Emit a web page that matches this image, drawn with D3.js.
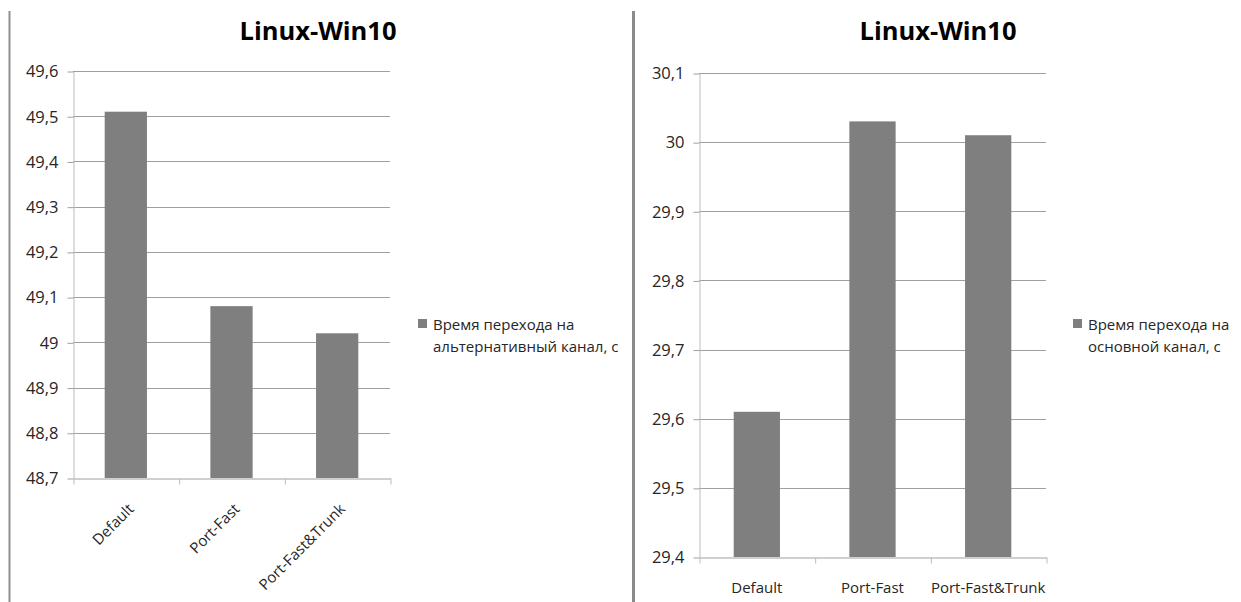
<!DOCTYPE html>
<html>
<head>
<meta charset="utf-8">
<script src="https://cdn.jsdelivr.net/npm/d3@7"></script>
<style>
  html, body { margin: 0; padding: 0; background: #fff; }
  svg { display: block; font-family: "Open Sans", sans-serif; }
</style>
</head>
<body>
<svg id="chart" width="1241" height="602"></svg>
<script>
// ---- data ----
const categories = ["Default", "Port-Fast", "Port-Fast&Trunk"];
const altValues = [49.51, 49.08, 49.02];   // Время перехода на альтернативный канал, с
const mainValues = [29.61, 30.03, 30.01];  // Время перехода на основной канал, с
const altTicks = [48.7, 48.8, 48.9, 49.0, 49.1, 49.2, 49.3, 49.4, 49.5, 49.6];
const mainTicks = [29.4, 29.5, 29.6, 29.7, 29.8, 29.9, 30.0, 30.1];
const chartTitles = ["Linux-Win10", "Linux-Win10"];
const legendLabels = [
  ["Время перехода на", "альтернативный канал, с"],
  ["Время перехода на", "основной канал, с"]
];

const fmt = v => d3.format("~g")(+v.toFixed(1)).replace(".", ",");

const svg = d3.select("#chart");
const BAR = "#7f7f7f", GRID = "#a0a0a0", AXIS = "#bdbdbd", TXT = "#262626";

// separators
svg.append("line").attr("x1", 9.5).attr("x2", 9.5).attr("y1", 11).attr("y2", 602)
  .attr("stroke", "#8f8f8f").attr("stroke-width", 2);
svg.append("line").attr("x1", 633.5).attr("x2", 633.5).attr("y1", 11).attr("y2", 602)
  .attr("stroke", "#8a8a8a").attr("stroke-width", 3);

function drawPanel(cfg) {
  const g = svg.append("g");
  const y = d3.scaleLinear().domain(cfg.domain).range([cfg.bottom, cfg.top]);
  const x = d3.scaleBand().domain(categories).range([cfg.left, cfg.right])
    .paddingInner(0.6).paddingOuter(0.3);
  const bound = d3.scaleLinear().domain([0, categories.length]).range([cfg.left, cfg.right]);

  // gridlines
  g.append("g").selectAll("line").data(cfg.ticks.slice(1)).join("line")
    .attr("x1", cfg.left).attr("x2", cfg.right)
    .attr("y1", d => Math.round(y(d)) + 0.5).attr("y2", d => Math.round(y(d)) + 0.5)
    .attr("stroke", GRID).attr("stroke-width", 1);

  // bars
  g.append("g").selectAll("rect").data(cfg.values).join("rect")
    .attr("x", (d, i) => x(categories[i]))
    .attr("width", x.bandwidth())
    .attr("y", d => y(d))
    .attr("height", d => y(cfg.domain[0]) - y(d))
    .attr("fill", BAR);

  // y axis
  const ya = g.append("g").attr("transform", `translate(${cfg.left + 0.5},0.5)`)
    .call(d3.axisLeft(y).tickValues(cfg.ticks).tickFormat(fmt).tickSize(6).tickPadding(9).tickSizeOuter(0));
  ya.select(".domain").attr("stroke", AXIS);
  ya.selectAll(".tick line").attr("stroke", GRID);
  ya.selectAll("text").attr("fill", TXT).attr("font-size", 16.5)
    .attr("font-family", "Open Sans, sans-serif");

  // x axis
  const xa = g.append("g").attr("transform", `translate(0.5,${Math.round(cfg.bottom) + 0.5})`)
    .call(d3.axisBottom(bound).tickValues(d3.range(categories.length + 1)).tickFormat("").tickSize(6).tickSizeOuter(0));
  xa.select(".domain").attr("stroke", GRID);
  xa.selectAll(".tick line").attr("stroke", AXIS);

  // category labels
  const lab = g.append("g").selectAll("text").data(categories).join("text")
    .attr("fill", TXT).attr("font-size", 15).text(d => d);
  if (cfg.rotate) {
    lab.attr("text-anchor", "end")
      .attr("transform", d => `translate(${x(d) + x.bandwidth() / 2 + 9},${cfg.bottom + 32}) rotate(-45)`);
  } else {
    lab.attr("text-anchor", "middle")
      .attr("x", d => x(d) + x.bandwidth() / 2).attr("y", cfg.bottom + 36);
  }

  // title
  g.append("text").attr("x", cfg.titleX).attr("y", 40).attr("text-anchor", "middle")
    .attr("font-size", 25.5).attr("font-weight", "bold").attr("fill", "#000").text(cfg.title);

  // legend
  g.append("rect").attr("x", cfg.legendX).attr("y", 319).attr("width", 9).attr("height", 9).attr("fill", BAR);
  const lt = g.append("text").attr("fill", TXT).attr("font-size", 15);
  cfg.legend.forEach((s, i) => {
    lt.append("tspan").attr("x", cfg.legendX + 15).attr("y", 330 + i * 22).text(s);
  });
}

drawPanel({
  domain: [altTicks[0], altTicks[altTicks.length - 1]], ticks: altTicks, values: altValues,
  left: 73, right: 390, top: 71, bottom: 478, rotate: true,
  title: chartTitles[0], titleX: 318, legendX: 418, legend: legendLabels[0]
});
drawPanel({
  domain: [mainTicks[0], mainTicks[mainTicks.length - 1]], ticks: mainTicks, values: mainValues,
  left: 699, right: 1046, top: 73, bottom: 557, rotate: false,
  title: chartTitles[1], titleX: 938, legendX: 1073, legend: legendLabels[1]
});
</script>
</body>
</html>
